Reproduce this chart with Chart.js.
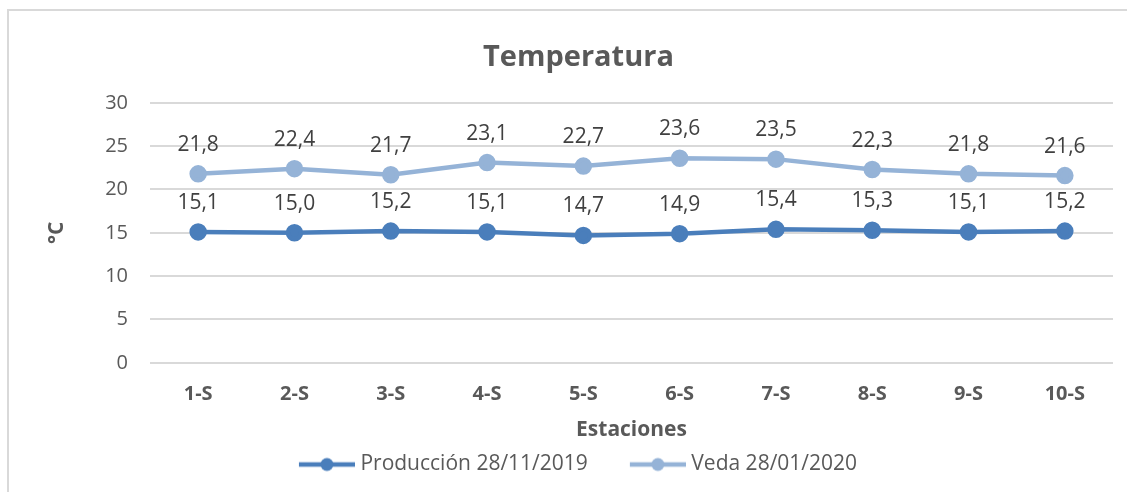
<!DOCTYPE html>
<html>
<head>
<meta charset="utf-8">
<script src="https://cdn.jsdelivr.net/npm/chart.js@4/dist/chart.umd.min.js"></script>
<style>
  html, body { margin: 0; padding: 0; background: #fff; overflow: hidden; }
  #wrap { position: relative; width: 1127px; height: 492px; }
  #frame { position: absolute; left: 7px; top: 9px; width: 1200px; height: 600px; border: 2px solid #d9d9d9; box-sizing: border-box; }
  canvas { position: absolute; left: 0; top: 0; }
</style>
</head>
<body>
<div id="wrap">
  <div id="frame"></div>
  <canvas id="chart" width="1127" height="492"></canvas>
</div>
<script>
// Temperatura por estación
const stations = ['1-S', '2-S', '3-S', '4-S', '5-S', '6-S', '7-S', '8-S', '9-S', '10-S'];
const produccion = [15.1, 15.0, 15.2, 15.1, 14.7, 14.9, 15.4, 15.3, 15.1, 15.2];
const veda = [21.8, 22.4, 21.7, 23.1, 22.7, 23.6, 23.5, 22.3, 21.8, 21.6];

const FONT = '"Open Sans", "Noto Sans", sans-serif';
const GREY = '#595959';
const DARK_BLUE = '#4a7ebb';
const LIGHT_BLUE = '#95b3d7';

// legend marker: line with dot, blank part on the left acts as spacing between items
function marker(color) {
  const c = document.createElement('canvas');
  c.width = 100; c.height = 16;
  const g = c.getContext('2d');
  g.strokeStyle = color;
  g.lineWidth = 4.5;
  g.beginPath(); g.moveTo(44, 8); g.lineTo(100, 8); g.stroke();
  g.fillStyle = color;
  g.beginPath(); g.arc(72, 8, 6.5, 0, Math.PI * 2); g.fill();
  return c;
}

// --- value labels above points ---
const valueLabels = {
  id: 'valueLabels',
  afterLayout(chart) {
    // compensate blank space of first legend marker so the visible legend is centred
    chart.legend.left -= 20;
    chart.legend.right -= 20;
  },
  afterDatasetsDraw(chart) {
    const ctx = chart.ctx;
    ctx.save();
    ctx.font = '21px ' + FONT;
    ctx.fillStyle = '#404040';
    ctx.textAlign = 'center';
    ctx.textBaseline = 'middle';
    chart.data.datasets.forEach((ds, i) => {
      chart.getDatasetMeta(i).data.forEach((pt, j) => {
        ctx.fillText(ds.data[j].toFixed(1).replace('.', ','), pt.x, pt.y - 29);
      });
    });
    ctx.restore();
  }
};

new Chart(document.getElementById('chart'), {
  type: 'line',
  data: {
    labels: stations,
    datasets: [
      { label: 'Producción 28/11/2019', data: produccion, borderColor: DARK_BLUE, backgroundColor: DARK_BLUE,
        borderWidth: 4.5, pointRadius: 6.5, pointHoverRadius: 6.5, tension: 0 },
      { label: 'Veda 28/01/2020', data: veda, borderColor: LIGHT_BLUE, backgroundColor: LIGHT_BLUE,
        borderWidth: 4.5, pointRadius: 6.5, pointHoverRadius: 6.5, tension: 0 }
    ]
  },
  options: {
    responsive: false,
    animation: false,
    layout: { padding: { top: 40, left: 44, right: 14, bottom: 7 } },
    plugins: {
      title: { display: true, text: 'Temperatura', color: GREY,
        font: { family: FONT, size: 29, weight: 'bold' }, padding: { top: 0, bottom: 28 } },
      legend: {
        position: 'bottom',
        labels: {
          color: GREY, font: { family: FONT, size: 21 }, usePointStyle: true, pointStyleWidth: 90, padding: 3,
          generateLabels(chart) {
            return chart.data.datasets.map((ds, i) => ({
              text: ds.label, fontColor: GREY, pointStyle: marker(ds.borderColor),
              lineWidth: 0, strokeStyle: 'transparent', fillStyle: ds.borderColor, datasetIndex: i
            }));
          }
        }
      },
      tooltip: { enabled: false }
    },
    scales: {
      x: {
        offset: true,
        grid: { display: false },
        border: { display: false },
        ticks: { color: GREY, font: { family: FONT, size: 20, weight: 'bold' }, padding: 11 },
        title: { display: true, text: 'Estaciones', color: GREY, font: { family: FONT, size: 21, weight: 'bold' }, padding: { top: 1, bottom: 8 } }
      },
      y: {
        min: 0, max: 30,
        grid: { color: '#d9d9d9', lineWidth: 2, drawTicks: false },
        border: { display: false },
        ticks: { stepSize: 5, color: GREY, font: { family: FONT, size: 20 }, padding: 22 },
        title: { display: true, text: '°C', color: GREY, font: { family: FONT, size: 21, weight: 'bold' }, padding: { top: 0, bottom: 34 } },
        afterFit(scale) { scale.width = 106; }
      }
    }
  },
  plugins: [valueLabels]
});
</script>
</body>
</html>
